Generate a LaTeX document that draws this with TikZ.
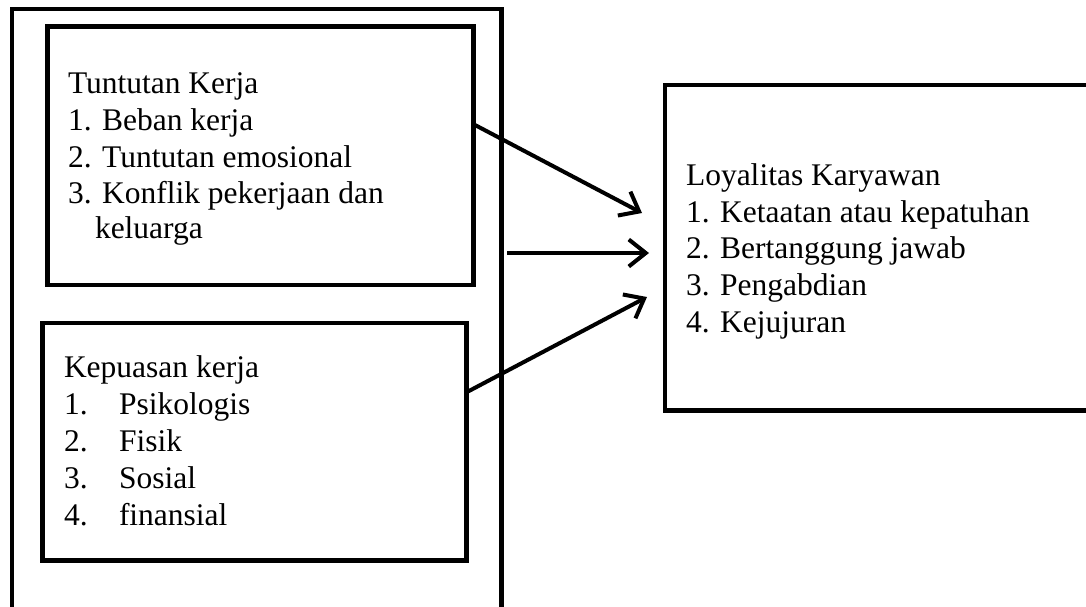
\documentclass[tikz,border=0pt]{standalone}
\usepackage{fontspec}
\setmainfont{Liberation Serif}
\usetikzlibrary{arrows.meta}
\begin{document}
\begin{tikzpicture}[x=1pt,y=-1pt,
  frame/.style={draw=black,line width=4.5pt,line join=miter,inner sep=0pt,outer sep=0pt,fill=none},
  txt/.style={anchor=base west,inner sep=0pt,outer sep=0pt,font=\fontsize{31.5}{36.5}\selectfont},
  arr/.style={line width=4pt,-{Straight Barb[length=17pt,width=27pt,line width=4pt]}}]
\useasboundingbox (0,0) rectangle (1086,607);
\clip (0,0) rectangle (1086,607);
% outer frame
\node[frame,minimum width=489.5pt,minimum height=640pt] (outer) at (256.75,329) {};
% boxes
\node[frame,minimum width=426pt,minimum height=258.5pt] (box1) at (260.5,155.75) {};
\node[frame,minimum width=424pt,minimum height=237.5pt] (box2) at (254.5,441.75) {};
\node[frame,minimum width=460pt,minimum height=325.5pt] (box3) at (895,247.75) {};
% texts box 1
\node[txt] (t1a) at (68,94) {Tuntutan Kerja};
\node[txt] (t1b) at (68,130.5) {1. Beban kerja};
\node[txt] (t1c) at (68,167) {2. Tuntutan emosional};
\node[txt] (t1d) at (68,203.5) {3. Konflik pekerjaan dan};
\node[txt] (t1e) at (95,238.5) {keluarga};
% texts box 2
\node[txt] (t2a) at (64,377) {Kepuasan kerja};
\node[txt] (n2b) at (64,414) {1.};
\node[txt] (t2b) at (119,414) {Psikologis};
\node[txt] (n2c) at (64,451) {2.};
\node[txt] (t2c) at (119,451) {Fisik};
\node[txt] (n2d) at (64,488) {3.};
\node[txt] (t2d) at (119,488) {Sosial};
\node[txt] (n2e) at (64,525) {4.};
\node[txt] (t2e) at (119,525) {finansial};
% texts box 3
\node[txt] (t3a) at (686,185) {Loyalitas Karyawan};
\node[txt] (t3b) at (686,222) {1. Ketaatan atau kepatuhan};
\node[txt] (t3c) at (686,258.5) {2. Bertanggung jawab};
\node[txt] (t3d) at (686,295) {3. Pengabdian};
\node[txt] (t3e) at (686,332) {4. Kejujuran};
% arrows
\coordinate (a1s) at (475,125);
\coordinate (a1e) at (642,213);
\coordinate (a2s) at (507,253);
\coordinate (a2e) at (649,253);
\coordinate (a3s) at (468,391.5);
\coordinate (a3e) at (647,297);
\draw[arr] (a1s) -- (a1e);
\draw[arr] (a2s) -- (a2e);
\draw[arr] (a3s) -- (a3e);
\end{tikzpicture}
\end{document}
